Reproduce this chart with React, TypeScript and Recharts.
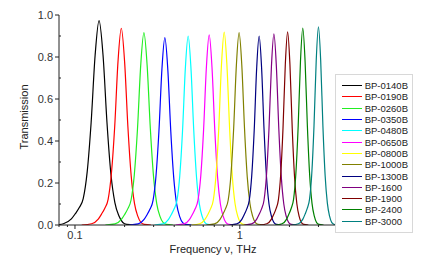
import React from 'react';
import { LineChart, Line, XAxis, YAxis, Legend } from 'recharts';

// [frequency THz, transmission]
const bp0140: [number, number][] = [
  [0.08, 0.002], [0.0851, 0.006], [0.0951, 0.029], [0.1005, 0.054], [0.1062, 0.083], [0.1122, 0.126],
  [0.1186, 0.253], [0.1253, 0.487], [0.1325, 0.808], [0.14, 0.973], [0.148, 0.808], [0.1564, 0.487],
  [0.1652, 0.243], [0.1746, 0.107], [0.1846, 0.044], [0.195, 0.012], [0.2061, 0.003], [0.2302, 0],
];
const bp0190: [number, number][] = [
  [0.1099, 0], [0.1262, 0.006], [0.1384, 0.028], [0.1449, 0.052], [0.1517, 0.08], [0.1589, 0.122],
  [0.1663, 0.244], [0.1742, 0.469], [0.1824, 0.778], [0.191, 0.937], [0.2, 0.778], [0.2094, 0.469],
  [0.2193, 0.234], [0.2296, 0.103], [0.2404, 0.042], [0.2518, 0.011], [0.2637, 0.003], [0.2891, 0],
];
const bp0260: [number, number][] = [
  [0.1529, 0], [0.1749, 0.005], [0.1913, 0.027], [0.2001, 0.05], [0.2093, 0.078], [0.2189, 0.119],
  [0.229, 0.238], [0.2395, 0.458], [0.2505, 0.76], [0.262, 0.916], [0.274, 0.76], [0.2866, 0.458],
  [0.2998, 0.229], [0.3135, 0.101], [0.3279, 0.041], [0.343, 0.011], [0.3588, 0.003], [0.3925, 0],
];
const bp0350: [number, number][] = [
  [0.2135, 0], [0.2417, 0.005], [0.2626, 0.027], [0.2737, 0.049], [0.2853, 0.076], [0.2974, 0.116],
  [0.31, 0.232], [0.3231, 0.446], [0.3368, 0.74], [0.351, 0.892], [0.3658, 0.74], [0.3813, 0.446],
  [0.3975, 0.223], [0.4143, 0.098], [0.4318, 0.04], [0.4501, 0.011], [0.4691, 0.003], [0.5097, 0],
];
const bp0480: [number, number][] = [
  [0.3038, 0], [0.3417, 0.005], [0.3695, 0.027], [0.3843, 0.05], [0.3996, 0.077], [0.4156, 0.117],
  [0.4322, 0.234], [0.4494, 0.45], [0.4674, 0.747], [0.486, 0.9], [0.5054, 0.747], [0.5256, 0.45],
  [0.5466, 0.225], [0.5684, 0.099], [0.5911, 0.041], [0.6146, 0.011], [0.6392, 0.003], [0.6912, 0],
];
const bp0650: [number, number][] = [
  [0.4076, 0], [0.4584, 0.005], [0.4957, 0.027], [0.5155, 0.05], [0.5361, 0.077], [0.5575, 0.118],
  [0.5798, 0.235], [0.6029, 0.453], [0.627, 0.751], [0.652, 0.905], [0.678, 0.751], [0.7051, 0.453],
  [0.7332, 0.226], [0.7625, 0.1], [0.793, 0.041], [0.8246, 0.011], [0.8576, 0.003], [0.9273, 0],
];
const bp0800: [number, number][] = [
  [0.5096, 0], [0.5711, 0.006], [0.6162, 0.028], [0.6401, 0.05], [0.6649, 0.078], [0.6907, 0.119],
  [0.7174, 0.239], [0.7451, 0.459], [0.774, 0.762], [0.804, 0.918], [0.8351, 0.762], [0.8675, 0.459],
  [0.901, 0.23], [0.9359, 0.101], [0.9722, 0.041], [1.0098, 0.011], [1.049, 0.003], [1.1318, 0],
];
const bp1000: [number, number][] = [
  [0.6275, 0], [0.7033, 0.005], [0.7588, 0.027], [0.7882, 0.05], [0.8187, 0.078], [0.8504, 0.119],
  [0.8834, 0.238], [0.9175, 0.458], [0.9531, 0.76], [0.99, 0.916], [1.0283, 0.76], [1.0682, 0.458],
  [1.1095, 0.229], [1.1525, 0.101], [1.1971, 0.041], [1.2434, 0.011], [1.2917, 0.003], [1.3936, 0],
];
const bp1300: [number, number][] = [
  [0.8655, 0], [0.96, 0.005], [1.0287, 0.027], [1.0648, 0.05], [1.1022, 0.077], [1.1409, 0.117],
  [1.181, 0.234], [1.2226, 0.45], [1.2656, 0.747], [1.31, 0.9], [1.356, 0.747], [1.4037, 0.45],
  [1.4531, 0.225], [1.5041, 0.099], [1.5569, 0.041], [1.6117, 0.011], [1.6683, 0.003], [1.7876, 0],
];
const bp1600: [number, number][] = [
  [1.0637, 0], [1.1798, 0.005], [1.2642, 0.027], [1.3086, 0.05], [1.3546, 0.077], [1.4022, 0.118],
  [1.4515, 0.237], [1.5026, 0.455], [1.5554, 0.755], [1.61, 0.91], [1.6665, 0.755], [1.7251, 0.455],
  [1.7858, 0.228], [1.8486, 0.1], [1.9135, 0.041], [1.9808, 0.011], [2.0503, 0.003], [2.197, 0],
];
const bp1900: [number, number][] = [
  [1.3245, 0], [1.4589, 0.006], [1.5561, 0.028], [1.6071, 0.051], [1.6597, 0.078], [1.7141, 0.12],
  [1.7703, 0.239], [1.8282, 0.46], [1.8881, 0.764], [1.95, 0.92], [2.014, 0.764], [2.0799, 0.46],
  [2.1479, 0.23], [2.2183, 0.101], [2.2911, 0.041], [2.3661, 0.011], [2.4435, 0.003], [2.6064, 0],
];
const bp2400: [number, number][] = [
  [1.6369, 0], [1.8031, 0.006], [1.9232, 0.028], [1.9862, 0.052], [2.0512, 0.08], [2.1185, 0.122],
  [2.1879, 0.244], [2.2595, 0.469], [2.3335, 0.779], [2.41, 0.938], [2.489, 0.779], [2.5705, 0.469],
  [2.6546, 0.235], [2.7416, 0.103], [2.8315, 0.042], [2.9243, 0.011], [3.02, 0.003], [3.2212, 0],
];
const bp3000: [number, number][] = [
  [2.066, 0], [2.2679, 0.006], [2.4133, 0.028], [2.4896, 0.052], [2.5683, 0.08], [2.6492, 0.123],
  [2.733, 0.245], [2.8193, 0.472], [2.9081, 0.784], [3.0, 0.944], [3.0948, 0.784], [3.1923, 0.472],
  [3.2931, 0.236], [3.3972, 0.104], [3.5043, 0.042], [3.615, 0.011], [3.7293, 0.003], [3.78, 0],
];

const filterNames = [
  'BP-0140B', 'BP-0190B', 'BP-0260B', 'BP-0350B', 'BP-0480B', 'BP-0650B', 'BP-0800B',
  'BP-1000B', 'BP-1300B', 'BP-1600', 'BP-1900', 'BP-2400', 'BP-3000',
];
const filterData = [
  bp0140, bp0190, bp0260, bp0350, bp0480, bp0650, bp0800,
  bp1000, bp1300, bp1600, bp1900, bp2400, bp3000,
];
const colors = [
  '#000000', '#ff0000', '#22ee22', '#0000ff', '#00ffff', '#ff00ff', '#ffff00',
  '#808000', '#000080', '#800080', '#800000', '#008000', '#008080',
];

const majorX = [0.1, 1];
const minorX = [0.08, 0.09, 0.2, 0.3, 0.4, 0.5, 0.6, 0.7, 0.8, 0.9, 2, 3];
const majorY = [0, 0.2, 0.4, 0.6, 0.8, 1.0];
const minorY = [0.1, 0.3, 0.5, 0.7, 0.9];

const font = 'Arial, "Liberation Sans", sans-serif';
const axisColor = '#222';

const XTick = (props: any) => {
  const { x, y, payload } = props;
  const major = majorX.includes(payload.value);
  return (
    <g>
      <line x1={x} x2={x} y1={y} y2={y + (major ? 4 : 2)} stroke={axisColor} />
      {major && (
        <text x={x} y={y + 14} textAnchor="middle" fontSize={11} fill="#333" fontFamily={font}>
          {payload.value}
        </text>
      )}
    </g>
  );
};

const YTick = (props: any) => {
  const { x, y, payload } = props;
  const major = majorY.includes(payload.value);
  return (
    <g>
      <line x1={x} x2={major ? x - 4 : x + 2} y1={y} y2={y} stroke={axisColor} />
      {major && (
        <text x={x - 6} y={y + 4} textAnchor="end" fontSize={11} fill="#333" fontFamily={font}>
          {payload.value.toFixed(1)}
        </text>
      )}
    </g>
  );
};

const LegendBox = () => (
  <div
    style={{
      border: '1px solid #d8d8d8',
      background: '#fff',
      padding: '5px 4px 5px 6px',
      width: 66,
      fontFamily: font,
      fontSize: 9.5,
      color: '#222',
    }}
  >
    {filterNames.map((name, i) => (
      <div key={name} style={{ display: 'flex', alignItems: 'center', height: 11.3 }}>
        <span style={{ display: 'inline-block', width: 20, height: 0, borderTop: `1.5px solid ${colors[i]}`, marginRight: 3 }} />
        <span style={{ lineHeight: '11px', whiteSpace: 'nowrap' }}>{name}</span>
      </div>
    ))}
  </div>
);

export default function App() {
  const series = filterNames.map((name, i) => ({
    name,
    color: colors[i],
    data: filterData[i].map(([f, t]) => ({ f, t })),
  }));

  return (
    <div style={{ position: 'absolute', left: 0, top: 0, width: 421, height: 258, background: '#fff' }}>
      <LineChart width={421} height={258} margin={{ top: 15, right: 86, bottom: 0, left: 0 }}>
        <XAxis
          dataKey="f"
          type="number"
          scale="log"
          domain={[0.08, 3.78]}
          allowDataOverflow
          ticks={[...majorX, ...minorX].sort((a, b) => a - b)}
          interval={0}
          tick={<XTick />}
          tickLine={false}
          tickSize={0}
          tickMargin={0}
          height={33}
          stroke={axisColor}
          label={{
            value: 'Frequency \u03bd, THz',
            position: 'insideBottom',
            offset: 5,
            dx: 16,
            style: { fontSize: 11, fill: '#222', fontFamily: font },
          }}
        />
        <YAxis
          type="number"
          domain={[0, 1]}
          allowDataOverflow
          ticks={[...majorY, ...minorY].sort((a, b) => a - b)}
          interval={0}
          tick={<YTick />}
          tickLine={false}
          tickSize={0}
          tickMargin={0}
          width={59}
          stroke={axisColor}
          label={{
            value: 'Transmission',
            angle: -90,
            position: 'insideLeft',
            offset: 24,
            dy: -3,
            style: { fontSize: 11, fill: '#222', fontFamily: font, textAnchor: 'middle' },
          }}
        />
        {series.map((s) => (
          <Line
            key={s.name}
            data={s.data}
            dataKey="t"
            name={s.name}
            type="monotone"
            stroke={s.color}
            strokeWidth={1.2}
            dot={false}
            activeDot={false}
            isAnimationActive={false}
          />
        ))}
        <Legend
          layout="vertical"
          align="center"
          verticalAlign="middle"
          content={() => <LegendBox />}
          wrapperStyle={{ position: 'absolute', left: 335, top: 74, width: 'auto', height: 'auto' }}
        />
      </LineChart>
    </div>
  );
}
